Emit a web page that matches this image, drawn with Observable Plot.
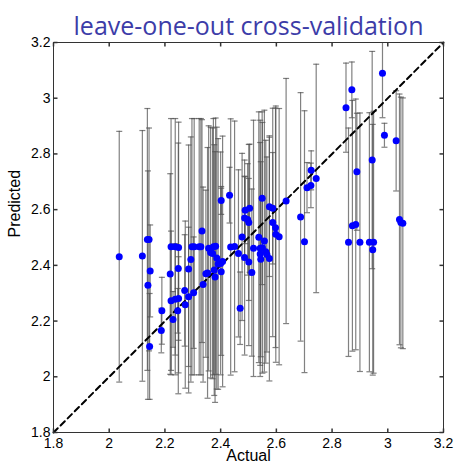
<!DOCTYPE html>
<html>
<head>
<meta charset="utf-8">
<script src="https://cdn.jsdelivr.net/npm/d3@7"></script>
<script src="https://cdn.jsdelivr.net/npm/@observablehq/plot@0.6"></script>
<style>
  html, body { margin: 0; padding: 0; background: #fff; }
  #chart { width: 458px; height: 469px; }
</style>
</head>
<body>
<div id="chart"></div>
<script>
// Leave-one-out cross-validation: actual vs predicted values with error bars
const title = "leave-one-out cross-validation";
const xLabel = "Actual";
const yLabel = "Predicted";

const actual = [
  2.036, 2.119, 2.137, 2.143, 2.147, 2.139, 2.145, 2.189, 2.187, 2.219,
  2.222, 2.237, 2.249, 2.222, 2.237, 2.249, 2.229, 2.246, 2.248, 2.273,
  2.271, 2.285, 2.285, 2.293, 2.297, 2.305, 2.323, 2.329, 2.303, 2.333,
  2.337, 2.347, 2.353, 2.357, 2.364, 2.371, 2.374, 2.382, 2.377, 2.380,
  2.386, 2.391, 2.400, 2.402, 2.407, 2.402, 2.432, 2.436, 2.450, 2.464,
  2.470, 2.477, 2.486, 2.501, 2.488, 2.504, 2.486, 2.497, 2.501, 2.512,
  2.518, 2.537, 2.542, 2.550, 2.542, 2.544, 2.549, 2.557, 2.562, 2.566,
  2.575, 2.575, 2.587, 2.587, 2.597, 2.598, 2.610, 2.635, 2.687, 2.701,
  2.710, 2.724, 2.725, 2.743, 2.850, 2.859, 2.871, 2.873, 2.885, 2.889,
  2.900, 2.934, 2.949, 2.946, 2.944, 2.981, 2.988, 3.030, 3.042, 3.047, 3.054
];

const predicted = [
  2.431, 2.434, 2.493, 2.493, 2.380, 2.329, 2.109, 2.237, 2.166, 2.369,
  2.467, 2.467, 2.464, 2.273, 2.278, 2.281, 2.206, 2.237, 2.389, 2.259,
  2.310, 2.287, 2.387, 2.421, 2.467, 2.467, 2.467, 2.467, 2.302, 2.523,
  2.331, 2.370, 2.373, 2.461, 2.446, 2.443, 2.467, 2.469, 2.383, 2.358,
  2.426, 2.405, 2.407, 2.377, 2.414, 2.633, 2.652, 2.466, 2.468, 2.443,
  2.246, 2.502, 2.428, 2.412, 2.598, 2.605, 2.570, 2.565, 2.554, 2.374,
  2.461, 2.501, 2.461, 2.463, 2.441, 2.422, 2.641, 2.487, 2.449, 2.439,
  2.425, 2.610, 2.605, 2.554, 2.535, 2.512, 2.503, 2.631, 2.574, 2.485,
  2.679, 2.687, 2.741, 2.712, 2.966, 2.483, 3.030, 2.542, 2.547, 2.736,
  2.483, 2.483, 2.483, 2.456, 2.778, 3.090, 2.867, 2.847, 2.565, 2.554, 2.551
];

// half-width of each prediction interval
const spread = [
  0.45, 0.45, 0.47, 0.40, 0.165, 0.41, 0.19, 0.12, 0.08, 0.36,
  0.46, 0.46, 0.45, 0.25, 0.20, 0.15, 0.10, 0.08, 0.45, 0.30,
  0.20, 0.25, 0.445, 0.44, 0.46, 0.46, 0.46, 0.46, 0.20, 0.40,
  0.35, 0.30, 0.45, 0.44, 0.45, 0.45, 0.46, 0.46, 0.45, 0.45,
  0.47, 0.45, 0.40, 0.30, 0.45, 0.05, 0.10, 0.46, 0.45, 0.30,
  0.13, 0.30, 0.35, 0.30, 0.12, 0.23, 0.15, 0.20, 0.28, 0.30,
  0.46, 0.45, 0.46, 0.45, 0.40, 0.35, 0.31, 0.47, 0.40, 0.35,
  0.44, 0.25, 0.20, 0.41, 0.43, 0.46, 0.46, 0.44, 0.446, 0.47,
  0.09, 0.08, 0.07, 0.41, 0.16, 0.41, 0.10, 0.45, 0.45, 0.21,
  0.464, 0.465, 0.47, 0.45, 0.39, 0.16, 0.043, 0.18, 0.45, 0.45, 0.45
];

const axisDomain = [1.8, 3.2];
const tickValues = [1.8, 2.0, 2.2, 2.4, 2.6, 2.8, 3.0, 3.2];
const tickLabels = ["1.8", "2", "2.2", "2.4", "2.6", "2.8", "3", "3.2"];

const rows = actual.map((a, i) => ({
  actual: a,
  predicted: predicted[i],
  lo: predicted[i] - spread[i],
  hi: predicted[i] + spread[i]
}));

// small path symbols: inward ticks and error-bar caps
const seg = (x1, y1, x2, y2) => ({draw(ctx) { ctx.moveTo(x1, y1); ctx.lineTo(x2, y2); }});
const tickUp = seg(0, 0, 0, -4);
const tickDown = seg(0, 0, 0, 4);
const tickRight = seg(0, 0, 4, 0);
const tickLeft = seg(0, 0, -4, 0);
const cap = seg(-3, 0, 3, 0);

const axisColor = "#333";
const barColor = "#505050";

const chart = Plot.plot({
  width: 458,
  height: 469,
  marginLeft: 53,
  marginRight: 15,
  marginTop: 42,
  marginBottom: 37,
  style: {fontFamily: "'Liberation Sans', Arial, sans-serif", fontSize: "14px", color: "#000", background: "#fff", overflow: "visible"},
  x: {domain: axisDomain},
  y: {domain: axisDomain},
  marks: [
    // error bars
    Plot.ruleX(rows, {x: "actual", y1: "lo", y2: "hi", stroke: barColor, strokeOpacity: 0.72, strokeWidth: 1.2, clip: true}),
    Plot.dot(rows, {x: "actual", y: "hi", symbol: cap, fill: "none", stroke: barColor, strokeOpacity: 0.72, strokeWidth: 1.2, clip: true}),
    Plot.dot(rows, {x: "actual", y: "lo", symbol: cap, fill: "none", stroke: barColor, strokeOpacity: 0.72, strokeWidth: 1.2, clip: true}),
    // identity line
    Plot.line(axisDomain.map(v => ({a: v, p: v})), {x: "a", y: "p", stroke: "#000", strokeWidth: 2, strokeDasharray: "6,4"}),
    // predictions
    Plot.dot(rows, {x: "actual", y: "predicted", r: 3.5, fill: "#0000ff", stroke: "none"}),
    Plot.frame({stroke: axisColor, strokeWidth: 1}),
    // inward ticks on all four sides
    Plot.dot(tickValues, {x: d => d, frameAnchor: "bottom", symbol: tickUp, fill: "none", stroke: axisColor}),
    Plot.dot(tickValues, {x: d => d, frameAnchor: "top", symbol: tickDown, fill: "none", stroke: axisColor}),
    Plot.dot(tickValues, {y: d => d, frameAnchor: "left", symbol: tickRight, fill: "none", stroke: axisColor}),
    Plot.dot(tickValues, {y: d => d, frameAnchor: "right", symbol: tickLeft, fill: "none", stroke: axisColor}),
    Plot.axisX({ticks: tickValues, tickFormat: (d, i) => tickLabels[i], tickSize: 0, tickPadding: 6, label: null, fontSize: 14}),
    Plot.axisY({ticks: tickValues, tickFormat: (d, i) => tickLabels[i], tickSize: 0, tickPadding: 3, label: null, fontSize: 14}),
    Plot.text([xLabel], {frameAnchor: "bottom", dy: 28, fontSize: 16}),
    Plot.text([yLabel], {frameAnchor: "left", dx: -39, rotate: -90, fontSize: 16}),
    Plot.text([title], {frameAnchor: "top", dy: -25, fontSize: 25, fill: "#3c3ca8", fontFamily: "'Open Sans', sans-serif"})
  ]
});

document.getElementById("chart").appendChild(chart);
</script>
</body>
</html>
